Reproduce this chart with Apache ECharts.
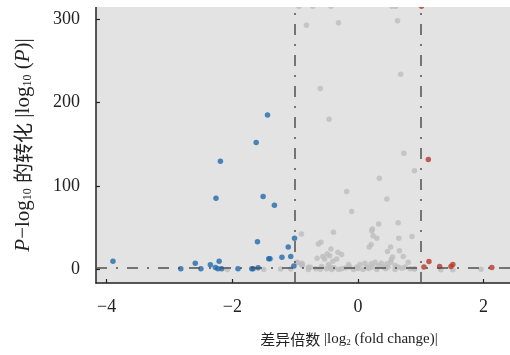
<!DOCTYPE html>
<html>
<head>
<meta charset="utf-8">
<script src="https://cdn.jsdelivr.net/npm/echarts@6/dist/echarts.min.js"></script>
<style>
  html, body { margin: 0; padding: 0; background: #fff; }
  #chart { width: 510px; height: 355px; }
</style>
</head>
<body>
<div id="chart"></div>
<script>
// volcano plot data: [log2 fold change, -log10 P]
const xTicks = [-4, -2, 0, 2];
const yTicks = [0, 100, 200, 300];
const foldCut = [-1, 1];
const pCut = 1.3;

const downPoints = [
  [-3.90, 9.4], [-2.82, 0.2], [-2.59, 7], [-2.50, 0.3], [-2.35, 5], [-2.27, 1.8],
  [-2.26, 85], [-2.21, 9.4], [-2.23, 0.2], [-2.17, 0.2], [-2.19, 129.5], [-1.91, 0.2],
  [-1.69, 0.2], [-1.67, 0.2], [-1.62, 152], [-1.60, 32.8], [-1.59, 1.4], [-1.51, 87],
  [-1.44, 185], [-1.42, 12.3], [-1.40, 12.3], [-1.33, 76.5], [-1.21, 14.2],
  [-1.11, 26.3], [-1.07, 15], [-1.01, 37], [-1.02, 3.4]
];

const upPoints = [
  [1.01, 316], [1.12, 131.5], [1.13, 9], [1.05, 2.2], [1.30, 3], [1.48, 3],
  [1.51, 5.4], [2.13, 1.8]
];

const grayPoints = [
  [-0.94, 316], [-0.72, 316], [-0.43, 316], [0.54, 316], [0.60, 316],
  [-0.82, 293], [-0.31, 296], [0.63, 298.5], [0.68, 234], [-0.60, 217], [-0.46, 180],
  [0.73, 139], [0.90, 118], [0.34, 109], [-0.18, 93], [0.46, 84], [-0.10, 69],
  [0.64, 55.5], [0.33, 54], [0.23, 48], [0.22, 46], [0.24, 40], [0.30, 37],
  [-0.90, 42], [-0.39, 44], [0.65, 37], [0.86, 39],
  [-0.59, 32], [-0.63, 30], [-0.43, 24], [0.21, 29.5], [0.18, 26.5], [0.52, 26.5],
  [0.47, 21], [0.66, 22], [-0.32, 20], [-0.26, 17.5], [-0.49, 18], [-0.45, 16],
  [-0.56, 15], [-0.53, 12], [-0.65, 13], [-0.40, 9.4], [-0.34, 12], [0.55, 14.5],
  [0.53, 11.5], [0.72, 15], [0.80, 8], [-0.89, 7], [-0.97, 8], [-0.89, 5], [-0.79, 2],
  [-0.89, 4], [-0.76, 2], [-0.67, 0.2], [-0.58, 3], [-0.47, 5.4], [-0.44, 2.2],
  [-0.50, 0.2], [-0.38, 1.4], [-0.26, 0.2], [-0.15, 5.4], [-0.13, 2.2], [-0.02, 2.2],
  [0.03, 5.4], [0.11, 7], [0.14, 2.2], [0.21, 6.3], [0.23, 2.2], [0.27, 8.2],
  [0.32, 4.2], [0.37, 7], [0.40, 2.2], [0.46, 6.3], [0.48, 2.2], [0.52, 8.2],
  [0.59, 4.2], [0.64, 2.2], [0.75, 2.2], [0.83, 0.2], [0.90, 0.2],
  [-0.79, -0.8], [-0.42, -0.8], [-0.31, -0.8], [-0.07, -0.8], [0.08, -0.8],
  [0.30, -0.8], [0.59, -0.8], [-0.20, 1], [0.00, 0.5], [0.17, 0.5], [0.44, 0.3],
  [0.70, 0.8], [-0.60, -0.5],
  [-2.08, -0.6], [-1.50, -0.6], [-1.23, 0], [-1.07, 0], [-0.96, 7.5], [0.90, 0],
  [1.32, -1], [1.51, -1], [1.96, -0.5]
];

const serif = "'Liberation Serif', 'Noto Sans CJK SC', serif";
const cjk = "'Noto Sans CJK SC'";
const minusFmt = v => String(v).replace('-', '\u2212');
const cutLine = { type: [11, 9, 2, 9], color: '#505050', width: 1.5 };

const chart = echarts.init(document.getElementById('chart'));

const option = {
  backgroundColor: '#fff',
  animation: false,
  grid: {
    left: 96, top: 7, right: 0, bottom: 72,
    show: true, backgroundColor: '#e3e3e3', borderWidth: 0
  },
  xAxis: {
    type: 'value',
    min: -4.17,
    max: 2.42,
    axisLine: { onZero: false, lineStyle: { color: '#222', width: 1.5 } },
    axisTick: { inside: true, length: 4, customValues: xTicks, lineStyle: { color: '#222', width: 1.2 } },
    axisLabel: {
      customValues: xTicks, formatter: minusFmt, margin: 15,
      color: '#222', fontFamily: serif, fontSize: 18
    },
    splitLine: { show: false },
    name: '{cn|差异倍数} |log{s|2} (fold change)|',
    nameLocation: 'middle',
    nameGap: 49,
    nameTextStyle: {
      color: '#222', fontFamily: serif, fontSize: 15, padding: [0, 0, 0, 92],
      rich: {
        cn: { fontFamily: cjk, fontSize: 15, color: '#222' },
        s: { fontSize: 9, verticalAlign: 'bottom', color: '#222', fontFamily: serif }
      }
    }
  },
  yAxis: {
    type: 'value',
    min: -16.9,
    max: 315,
    axisLine: { show: true, onZero: false, lineStyle: { color: '#222', width: 1.5 } },
    axisTick: { show: true, inside: true, length: 4, customValues: yTicks, lineStyle: { color: '#222', width: 1.2 } },
    axisLabel: {
      customValues: yTicks, margin: 16,
      color: '#222', fontFamily: serif, fontSize: 18
    },
    splitLine: { show: false },
    name: '{i|P}\u2212log{s|10} {cn|的转化} |log{s|10} ({i|P})|',
    nameLocation: 'middle',
    nameRotate: 90,
    nameGap: 62,
    nameTextStyle: {
      color: '#222', fontFamily: serif, fontSize: 21,
      rich: {
        i: { fontStyle: 'italic', fontFamily: serif, fontSize: 21, color: '#222' },
        cn: { fontFamily: cjk, fontSize: 20, color: '#222' },
        s: { fontSize: 12, verticalAlign: 'bottom', color: '#222', fontFamily: serif }
      }
    }
  },
  series: [
    {
      name: 'nodiff',
      type: 'scatter',
      clip: false,
      symbolSize: 5.5,
      itemStyle: { color: '#bdbdbd' },
      data: grayPoints,
      markLine: {
        silent: true,
        symbol: 'none',
        label: { show: false },
        lineStyle: cutLine,
        data: [{ xAxis: foldCut[0] }, { xAxis: foldCut[1] }, { yAxis: pCut }]
      }
    },
    {
      name: 'down',
      type: 'scatter',
      clip: false,
      symbolSize: 5.5,
      itemStyle: { color: '#1f6aac' },
      data: downPoints
    },
    {
      name: 'up',
      type: 'scatter',
      clip: false,
      symbolSize: 5.5,
      itemStyle: { color: '#b8382c' },
      data: upPoints
    }
  ],
  graphic: [
    // white band hiding the dots that run over the top of the panel
    { type: 'rect', left: 0, top: 0, z: 100, shape: { width: 510, height: 7 }, style: { fill: '#fff' } }
  ]
};

chart.setOption(option);
</script>
</body>
</html>
